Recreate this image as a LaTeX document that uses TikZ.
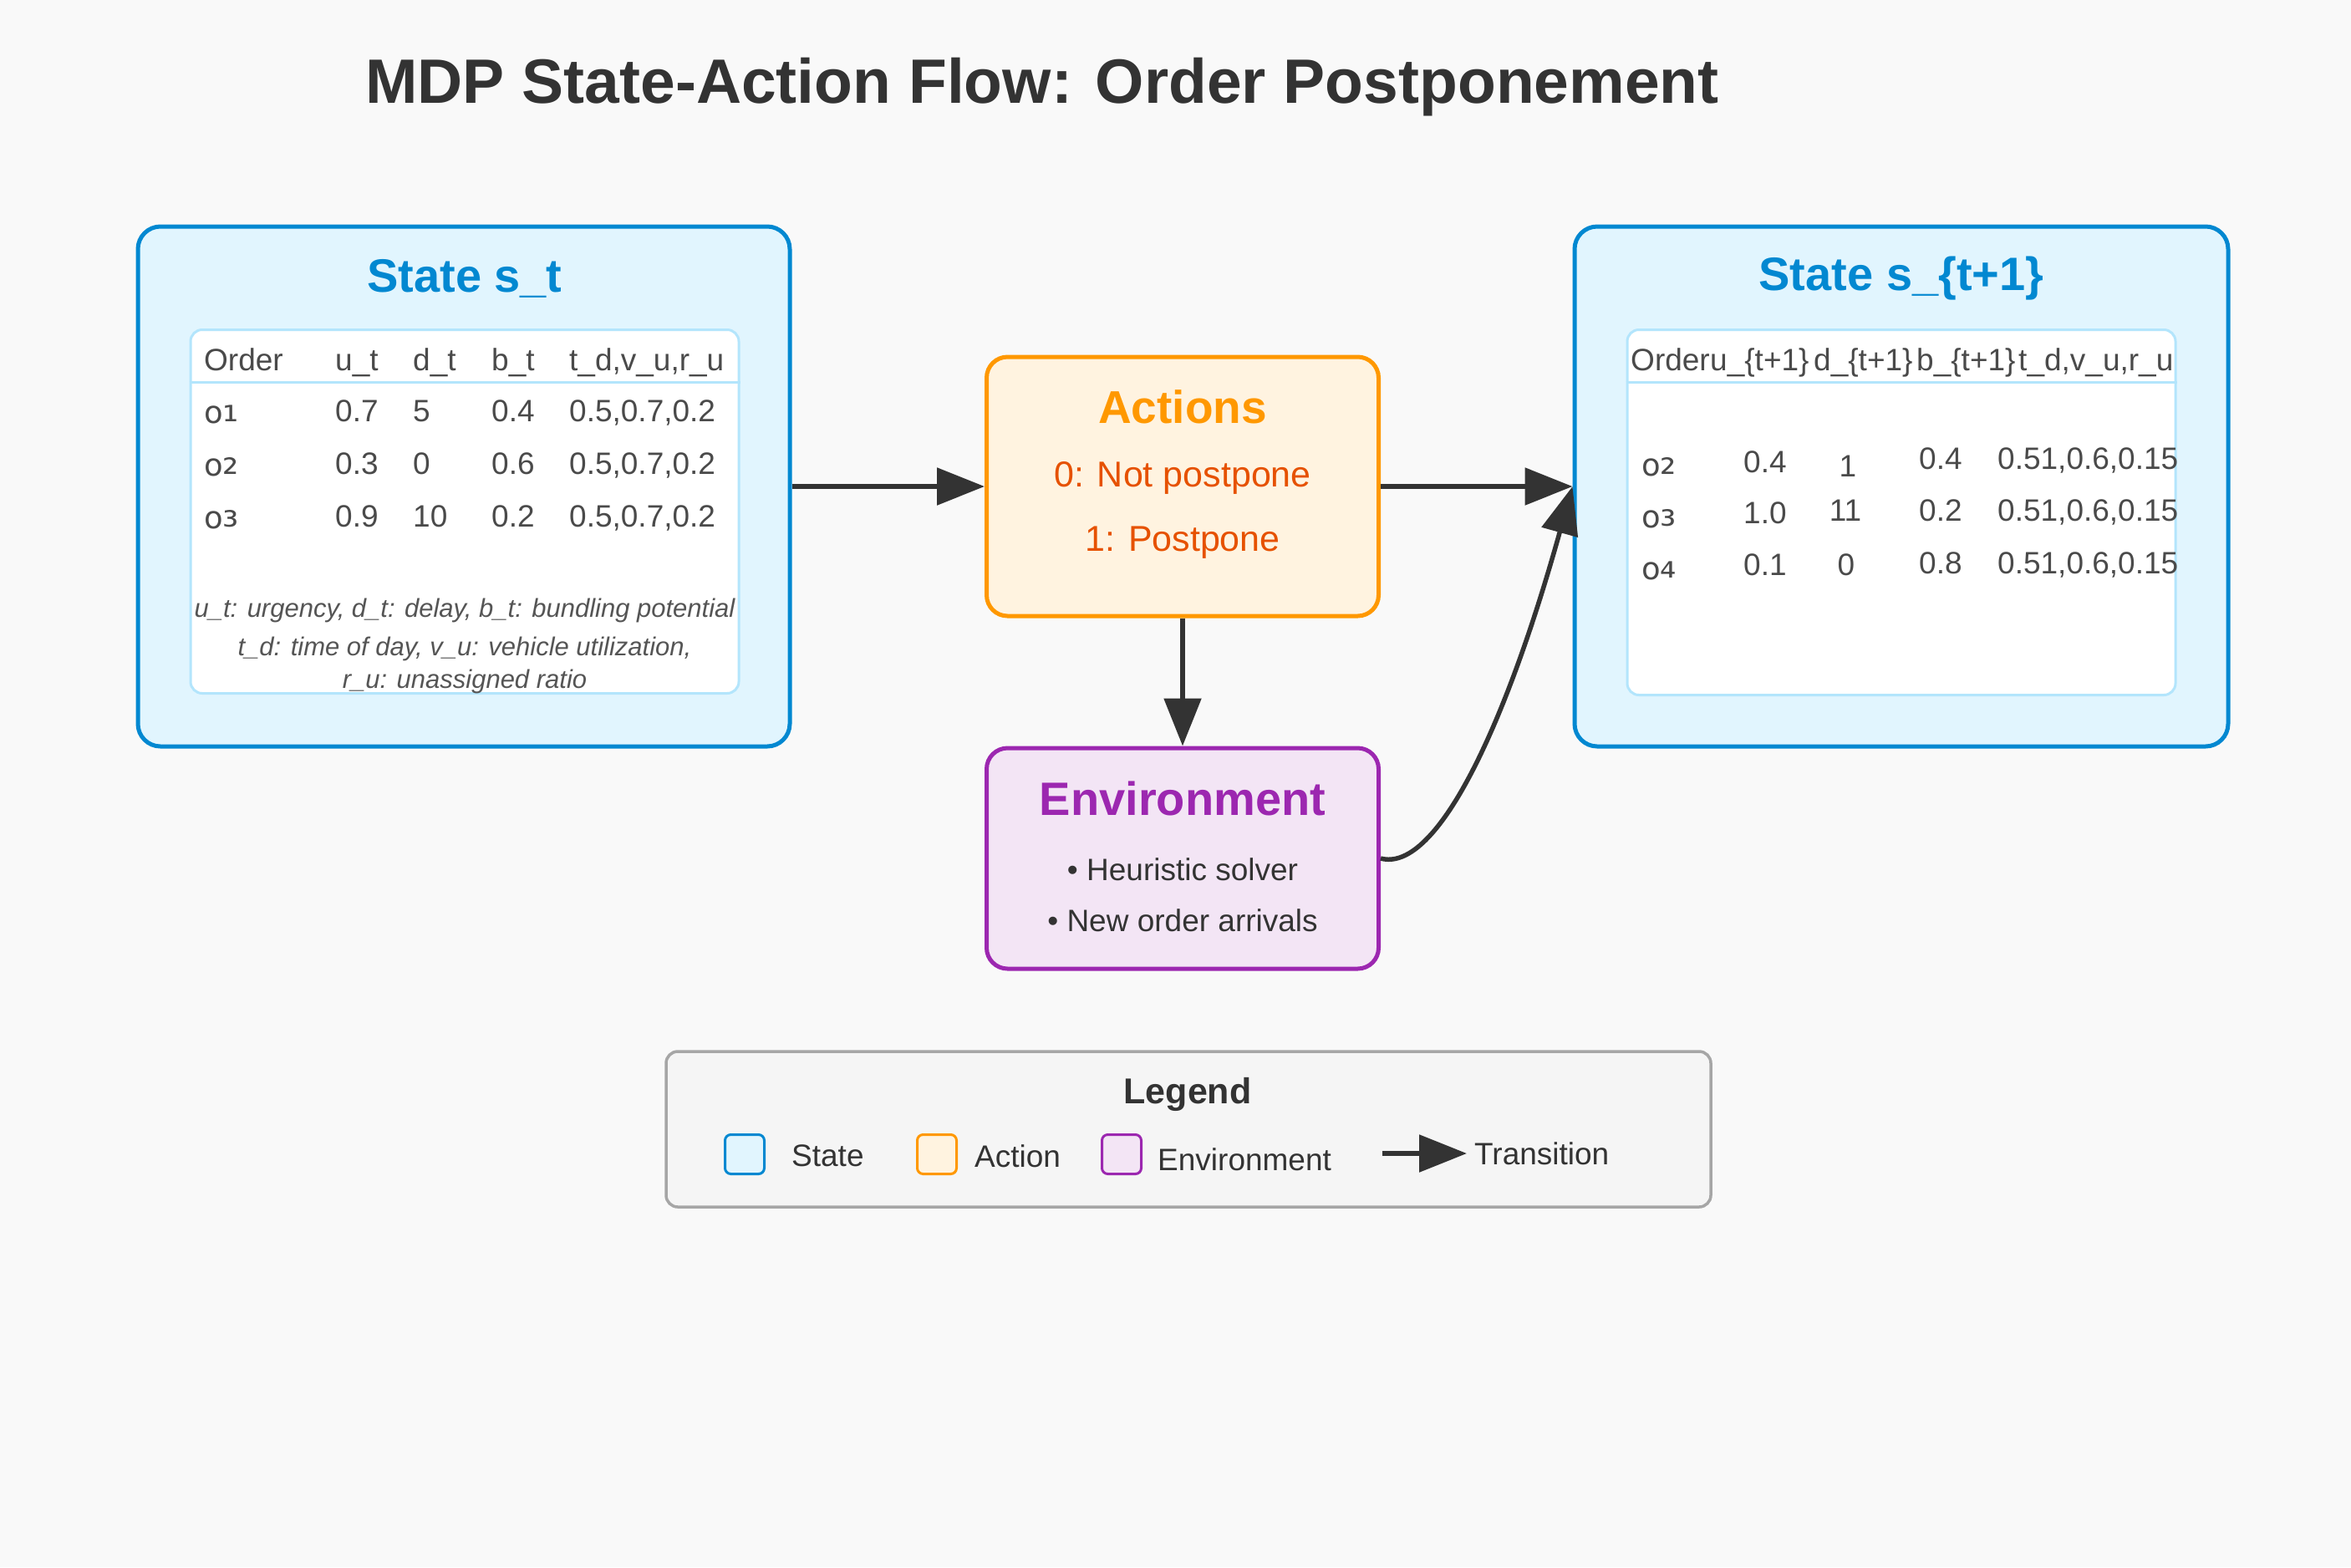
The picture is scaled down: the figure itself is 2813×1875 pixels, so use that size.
\documentclass[tikz,border=0pt]{standalone}
\usepackage{fontspec}
\setmainfont{Liberation Sans}
\newfontfamily\djv{DejaVu Sans}
\usetikzlibrary{arrows.meta}
\definecolor{bgc}{HTML}{F9F9F9}
\definecolor{stblue}{HTML}{0288D1}
\definecolor{stfill}{HTML}{E1F5FE}
\definecolor{tabline}{HTML}{B3E5FC}
\definecolor{actor}{HTML}{FF9800}
\definecolor{actfill}{HTML}{FFF3E0}
\definecolor{acttxt}{HTML}{E65100}
\definecolor{envp}{HTML}{9C27B0}
\definecolor{envfill}{HTML}{F3E5F5}
\definecolor{dark}{HTML}{333333}
\definecolor{tabtxtc}{HTML}{4A4A4A}
\definecolor{notec}{HTML}{555555}
\definecolor{legfill}{HTML}{F5F5F5}
\definecolor{legline}{HTML}{A6A6A6}
\newcommand{\fsz}[1]{\fontsize{#1pt}{#1pt}\selectfont}
\newcommand{\orderlbl}[1]{o\raisebox{0.05em}{\scalebox{1.3}{#1}}}
\begin{document}
\begin{tikzpicture}[x=1pt,y=-1pt,
  stbox/.style={draw=stblue,fill=stfill,line width=5pt,rounded corners=27pt,inner sep=0pt},
  tabbox/.style={draw=tabline,fill=white,line width=3pt,rounded corners=14pt,inner sep=0pt},
  actbox/.style={draw=actor,fill=actfill,line width=5pt,rounded corners=25pt,inner sep=0pt},
  envbox/.style={draw=envp,fill=envfill,line width=5pt,rounded corners=25pt,inner sep=0pt},
  legbox/.style={draw=legline,fill=legfill,line width=3.5pt,rounded corners=14pt,inner sep=0pt},
  tt/.style={anchor=west,inner sep=0pt,text height=27pt,text depth=0pt,text=tabtxtc,font=\fsz{37}},
  tc/.style={tt,anchor=center},
  ord/.style={tt,font=\djv\fsz{37}},
  note/.style={inner sep=0pt,text=notec,font=\itshape\fsz{31}},
  boxtitle/.style={inner sep=0pt,font=\bfseries\fsz{56}},
  acttext/.style={inner sep=0pt,text=acttxt,font=\fsz{43}},
  envtext/.style={inner sep=0pt,text=dark,font=\fsz{37}},
  legtxt/.style={anchor=west,inner sep=0pt,text=dark,font=\fsz{37}},
  trans/.style={draw=dark,line width=5.5pt,-{Triangle[length=57pt,width=44pt]}},
  swatch/.style={line width=3pt,rounded corners=7pt,minimum width=47pt,minimum height=47pt,inner sep=0pt}
]
\useasboundingbox (0,0) rectangle (2813,1875);
\fill[bgc] (0,0) rectangle (2813,1875);

% title
\node[inner sep=0pt,text=dark,font=\bfseries\fsz{75}] (title) at (1247,104) {MDP State-Action Flow: Order Postponement};

% left state
\node[stbox,minimum width=780pt,minimum height=622pt] (st) at (555,582) {};
\node[boxtitle,text=stblue] (sttitle) at (556,333) {State s\_t};
\node[tabbox,minimum width=656pt,minimum height=435pt] (sttab) at (556,612) {};
\draw[tabline,line width=3pt] (sttab.west |- 0,457) coordinate (sthl) -- (sttab.east |- 0,457) coordinate (sthr);
\node[tt] (h1) at (244,430) {Order};
\node[tt] (h2) at (401,430) {u\_t};
\node[tt] (h3) at (494,430) {d\_t};
\node[tt] (h4) at (588,430) {b\_t};
\node[tt] (h5) at (681,430) {t\_d,v\_u,r\_u};
\node[ord] (r1a) at (244,493) {\orderlbl{₁}};
\node[tt] (r1b) at (401,491) {0.7};
\node[tt] (r1c) at (494,491) {5};
\node[tt] (r1d) at (588,491) {0.4};
\node[tt] (r1e) at (681,491) {0.5,0.7,0.2};
\node[ord] (r2a) at (244,556) {\orderlbl{₂}};
\node[tt] (r2b) at (401,554) {0.3};
\node[tt] (r2c) at (494,554) {0};
\node[tt] (r2d) at (588,554) {0.6};
\node[tt] (r2e) at (681,554) {0.5,0.7,0.2};
\node[ord] (r3a) at (244,619) {\orderlbl{₃}};
\node[tt] (r3b) at (401,617) {0.9};
\node[tt] (r3c) at (494,617) {10};
\node[tt] (r3d) at (588,617) {0.2};
\node[tt] (r3e) at (681,617) {0.5,0.7,0.2};
\node[note] (n1) at (556,730) {u\_t: urgency, d\_t: delay, b\_t: bundling potential};
\node[note] (n2) at (556,776) {t\_d: time of day, v\_u: vehicle utilization,};
\node[note] (n3) at (556,815) {r\_u: unassigned ratio};

% right state
\node[stbox,minimum width=782pt,minimum height=622pt] (st2) at (2275,582) {};
\node[boxtitle,text=stblue] (st2title) at (2275,333) {State s\_\{t+1\}};
\node[tabbox,minimum width=656pt,minimum height=437pt] (st2tab) at (2275,613) {};
\draw[tabline,line width=3pt] (st2tab.west |- 0,457) coordinate (st2hl) -- (st2tab.east |- 0,457) coordinate (st2hr);
\node[tt] (k1) at (1951,430) {Order};
\node[tt] (k2) at (2046,430) {u\_\{t+1\}};
\node[tt] (k3) at (2170,430) {d\_\{t+1\}};
\node[tt] (k4) at (2293,430) {b\_\{t+1\}};
\node[tt] (k5) at (2415,430) {t\_d,v\_u,r\_u};
\node[ord] (q1a) at (1964,556) {\orderlbl{₂}};
\node[tt] (q1b) at (2086,552) {0.4};
\node[tc] (q1c) at (2211,557) {1};
\node[tt] (q1d) at (2296,548) {0.4};
\node[tt] (q1e) at (2390,548) {0.51,0.6,0.15};
\node[ord] (q2a) at (1964,618) {\orderlbl{₃}};
\node[tt] (q2b) at (2086,613) {1.0};
\node[tc] (q2c) at (2208,610) {11};
\node[tt] (q2d) at (2296,610) {0.2};
\node[tt] (q2e) at (2390,610) {0.51,0.6,0.15};
\node[ord] (q3a) at (1964,680) {\orderlbl{₄}};
\node[tt] (q3b) at (2086,675) {0.1};
\node[tc] (q3c) at (2209,675) {0};
\node[tt] (q3d) at (2296,673) {0.8};
\node[tt] (q3e) at (2390,673) {0.51,0.6,0.15};

% actions
\node[actbox,minimum width=469pt,minimum height=310pt] (act) at (1415,582) {};
\node[inner sep=0pt,text=actor,font=\bfseries\fsz{55}] (acttitle) at (1415,487) {Actions};
\node[acttext] (a0) at (1415,572) {0: Not postpone};
\node[acttext] (a1) at (1415,649) {1: Postpone};

% environment
\node[envbox,minimum width=469pt,minimum height=264pt] (env) at (1415,1027) {};
\node[boxtitle,text=envp] (envtitle) at (1415,955) {Environment};
\node[envtext] (e1) at (1415,1040) {• Heuristic solver};
\node[envtext] (e2) at (1415,1101) {• New order arrivals};

% transitions
\draw[trans] (st.east) -- (act.west);
\draw[trans] (act.east) -- (st2.west);
\draw[trans] (act.south) -- (env.north);
\draw[trans] (env.east) .. controls (1715,1044) and (1796,888) .. (st2.west);

% legend
\node[legbox,minimum width=1250pt,minimum height=186pt] (leg) at (1422,1351) {};
\node[inner sep=0pt,text=dark,font=\bfseries\fsz{43}] (legtitle) at (1421,1309) {Legend};
\node[swatch,draw=stblue,fill=stfill] (sw1) at (891,1381) {};
\node[legtxt] (l1) at (947,1383) {State};
\node[swatch,draw=actor,fill=actfill] (sw2) at (1121,1381) {};
\node[legtxt] (l2) at (1166,1383) {Action};
\node[swatch,draw=envp,fill=envfill] (sw3) at (1342,1381) {};
\node[legtxt] (l3) at (1385,1387) {Environment};
\coordinate (la) at (1654,1380);
\coordinate (lb) at (1755,1380);
\draw[trans] (la) -- (lb);
\node[legtxt] (l4) at (1764,1380) {Transition};
\end{tikzpicture}
\end{document}
